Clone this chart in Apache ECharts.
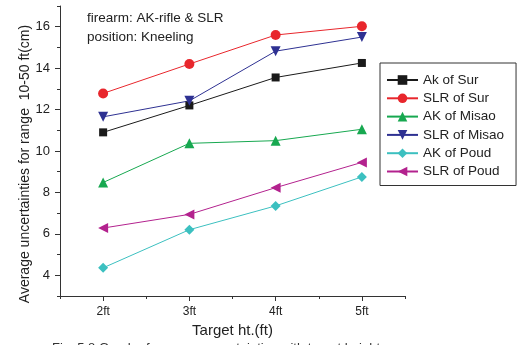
<!DOCTYPE html>
<html>
<head>
<meta charset="utf-8">
<script src="https://cdn.jsdelivr.net/npm/echarts@6/dist/echarts.min.js"></script>
<style>
  html, body { margin: 0; padding: 0; background: #fff; }
  #chart { width: 520px; height: 345px; }
</style>
</head>
<body>
<div id="chart"></div>
<script>
// Target heights (ft) and their tick labels
const heights = [2, 3, 4, 5];
const heightLabels = ['2ft', '3ft', '4ft', '5ft'];
const yTickValues = [4, 6, 8, 10, 12, 14, 16];

// Average uncertainties (cm) for range 10-50 ft
const akSur    = [10.9, 12.2, 13.55, 14.25];
const slrSur   = [12.78, 14.2, 15.6, 16.02];
const akMisao  = [8.48, 10.37, 10.5, 11.05];
const slrMisao = [11.65, 12.42, 14.82, 15.5];
const akPoud   = [4.36, 6.2, 7.35, 8.75];
const slrPoud  = [6.28, 6.94, 8.23, 9.45];

const FONT = 'Liberation Sans, Arial, sans-serif';
const AXIS = '#333';

function pairs(vals) { return heights.map((h, i) => [h, vals[i]]); }

function line(name, vals, color, symbol, size, rotate) {
  return {
    name, type: 'line', data: pairs(vals),
    symbol, symbolSize: size, symbolRotate: rotate || 0,
    showSymbol: true,
    lineStyle: { color, width: 1 },
    itemStyle: { color, borderWidth: 0 },
    emphasis: { disabled: true },
    animation: false
  };
}

const chart = echarts.init(document.getElementById('chart'));
chart.setOption({
  animation: false,
  grid: { left: 60, right: 115, top: 6, bottom: 49 },
  xAxis: [{
    type: 'value', min: 1.5, max: 5.5,
    axisLine: { lineStyle: { color: AXIS, width: 1 } },
    axisTick: { show: true, length: 5, customValues: heights, lineStyle: { color: AXIS } },
    axisLabel: {
      customValues: heights, margin: 10,
      formatter: v => heightLabels[heights.indexOf(v)] || '',
      color: '#222', fontSize: 12, fontFamily: FONT
    },
    splitLine: { show: false },
    name: 'Target ht.(ft)', nameLocation: 'middle', nameGap: 26,
    nameTextStyle: { color: '#222', fontSize: 15, fontFamily: FONT }
  }, {
    type: 'value', min: 1.5, max: 5.5, position: 'bottom',
    axisLine: { show: false },
    axisTick: { show: true, length: 3, customValues: [1.5, 2.5, 3.5, 4.5, 5.5], lineStyle: { color: AXIS } },
    axisLabel: { show: false },
    splitLine: { show: false }
  }],
  yAxis: [{
    type: 'value', min: 3, max: 17,
    axisLine: { show: true, lineStyle: { color: AXIS, width: 1 } },
    axisTick: { show: true, length: 5, customValues: yTickValues, lineStyle: { color: AXIS } },
    axisLabel: { customValues: yTickValues, margin: 10, color: '#222', fontSize: 13, fontFamily: FONT },
    splitLine: { show: false }
  }, {
    type: 'value', min: 3, max: 17, position: 'left',
    axisLine: { show: false },
    axisTick: { show: true, length: 3, customValues: [3, 5, 7, 9, 11, 13, 15, 17], lineStyle: { color: AXIS } },
    axisLabel: { show: false },
    splitLine: { show: false }
  }],
  legend: {
    orient: 'vertical', left: 380, top: 63,
    backgroundColor: '#fff',
    borderColor: AXIS, borderWidth: 1,
    padding: [10, 12, 7, 6],
    itemWidth: 31, itemHeight: 12, itemGap: 4.3,
    textStyle: { color: '#222', fontSize: 13.5, fontFamily: FONT },
    selectedMode: false
  },
  graphic: [{
    // vertical axis title
    type: 'text', x: 25, y: 164, rotation: Math.PI / 2,
    style: {
      text: 'Average uncertainties for range  10-50 ft(cm)',
      fill: '#222', font: '14px ' + FONT, align: 'center', verticalAlign: 'middle'
    }
  }, {
    type: 'text', left: 87, top: 11,
    style: { text: 'firearm: AK-rifle & SLR', fill: '#222', font: '13.5px ' + FONT }
  }, {
    type: 'text', left: 87, top: 30,
    style: { text: 'position: Kneeling', fill: '#222', font: '13.5px ' + FONT }
  }, {
    type: 'text', left: 52, top: 342,
    style: { text: 'Fig. 5.8 Graph of average uncertainties with target height', fill: '#333', font: '13px ' + FONT }
  }],
  series: [
    line('Ak of Sur', akSur, '#1a1a1a', 'rect', 8),
    line('SLR of Sur', slrSur, '#e8262c', 'circle', 10),
    line('AK of Misao', akMisao, '#17a850', 'triangle', 10),
    line('SLR of Misao', slrMisao, '#2e3192', 'triangle', 10, 180),
    line('AK of Poud', akPoud, '#3cc0c0', 'diamond', 10),
    line('SLR of Poud', slrPoud, '#b3228e', 'triangle', 10, 90)
  ]
});
</script>
</body>
</html>
